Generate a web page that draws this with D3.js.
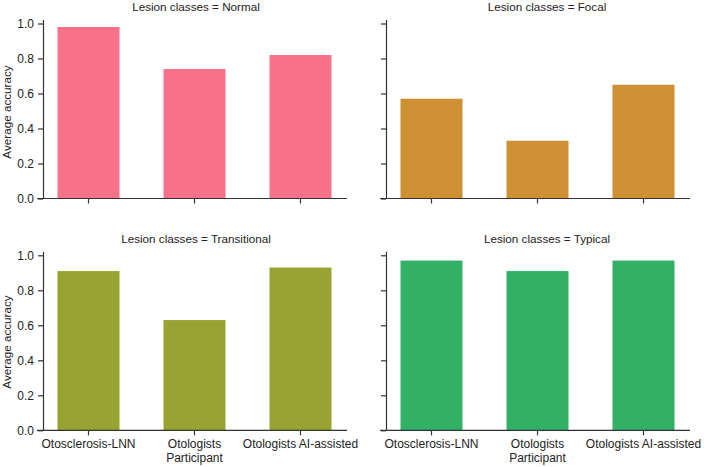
<!DOCTYPE html>
<html>
<head>
<meta charset="utf-8">
<script src="https://cdn.jsdelivr.net/npm/d3@7"></script>
<style>
  body { margin: 0; background: #fff; }
  svg { display: block; font-family: "Liberation Sans", Arial, sans-serif; }
  .domain, .tick line { stroke: #333; stroke-width: 1.2; }
  .tick text { fill: #222; font-size: 12px; }
</style>
</head>
<body>
<svg id="canvas" width="704" height="467"></svg>
<script>
const methods = ['Otosclerosis-LNN', 'Otologists Participant', 'Otologists AI-assisted']
const lesionClasses = ['Normal', 'Focal', 'Transitional', 'Typical']
const normalAcc = [0.98, 0.74, 0.82]
const focalAcc = [0.57, 0.33, 0.65]
const transitionalAcc = [0.91, 0.63, 0.93]
const typicalAcc = [0.97, 0.91, 0.97]
const yTicks = [0, 0.2, 0.4, 0.6, 0.8, 1.0]

const colors = ['#f77189', '#ce9032', '#97a431', '#32b166']
const values = [normalAcc, focalAcc, transitionalAcc, typicalAcc]

let canvas = d3.select('#canvas')

// panel layout: spine x, baseline y, title centre
const panels = [
    { left: 43, base: 198.5, titleX: 196, titleY: 11, row: 0, col: 0 },
    { left: 386, base: 198.5, titleX: 547, titleY: 11, row: 0, col: 1 },
    { left: 43, base: 430.3, titleX: 196, titleY: 243, row: 1, col: 0 },
    { left: 386, base: 430.3, titleX: 547, titleY: 243, row: 1, col: 1 }
]
const unit = 175   // px for 1.0
const spineLen = 304

let drawPanel = (p, i) => {
    let g = canvas.append('g')

    let x = d3.scaleBand()
        .domain(methods)
        .range([p.left - 7.5, p.left + 310.5])
        .paddingInner(0.415)
        .paddingOuter(0.2075)

    let y = d3.scaleLinear()
        .domain([0, 1.023])
        .range([p.base, p.base - unit * 1.023])

    g.selectAll('rect')
        .data(values[i])
        .enter()
        .append('rect')
        .attr('x', (d, j) => x(methods[j]))
        .attr('y', d => y(d))
        .attr('width', x.bandwidth())
        .attr('height', d => y(0) - y(d))
        .attr('fill', colors[i])

    // y axis
    let yAxis = d3.axisLeft(y)
        .tickValues(yTicks)
        .tickSize(5)
        .tickSizeOuter(0)
        .tickPadding(4)
        .tickFormat(p.col === 0 ? d3.format('.1f') : '')
    g.append('g')
        .attr('transform', `translate(${p.left},0)`)
        .call(yAxis)

    // x axis
    let xAxis = d3.axisBottom(x)
        .tickSize(5)
        .tickSizeOuter(0)
        .tickPadding(4)
        .tickFormat('')
    let xg = g.append('g')
        .attr('transform', `translate(0,${p.base})`)
        .call(xAxis)
    xg.select('.domain').remove()
    xg.append('line')
        .attr('x1', p.left - 6)
        .attr('x2', p.left + spineLen)
        .attr('stroke', '#333')
        .attr('stroke-width', 1.2)

    if (p.row === 1) {
        xg.selectAll('.tick').each(function(d) {
            let lines = d === 'Otologists Participant' ? ['Otologists', 'Participant'] : [d]
            let t = d3.select(this).append('text')
                .attr('fill', '#222')
                .attr('font-size', 12)
                .attr('text-anchor', 'middle')
            lines.forEach((l, k) => {
                t.append('tspan')
                    .attr('x', 0)
                    .attr('y', 18 + k * 14)
                    .text(l)
            })
        })
    }

    // title
    g.append('text')
        .attr('x', p.titleX)
        .attr('y', p.titleY)
        .attr('text-anchor', 'middle')
        .attr('font-size', 11.7)
        .attr('fill', '#222')
        .text('Lesion classes = ' + lesionClasses[i])

    if (p.col === 0) {
        let cy = p.row === 0 ? 112 : 342
        g.append('text')
            .attr('transform', `translate(11,${cy}) rotate(-90)`)
            .attr('text-anchor', 'middle')
            .attr('font-size', 11.7)
            .attr('fill', '#222')
            .text('Average accuracy')
    }
}

panels.forEach(drawPanel)
</script>
</body>
</html>
